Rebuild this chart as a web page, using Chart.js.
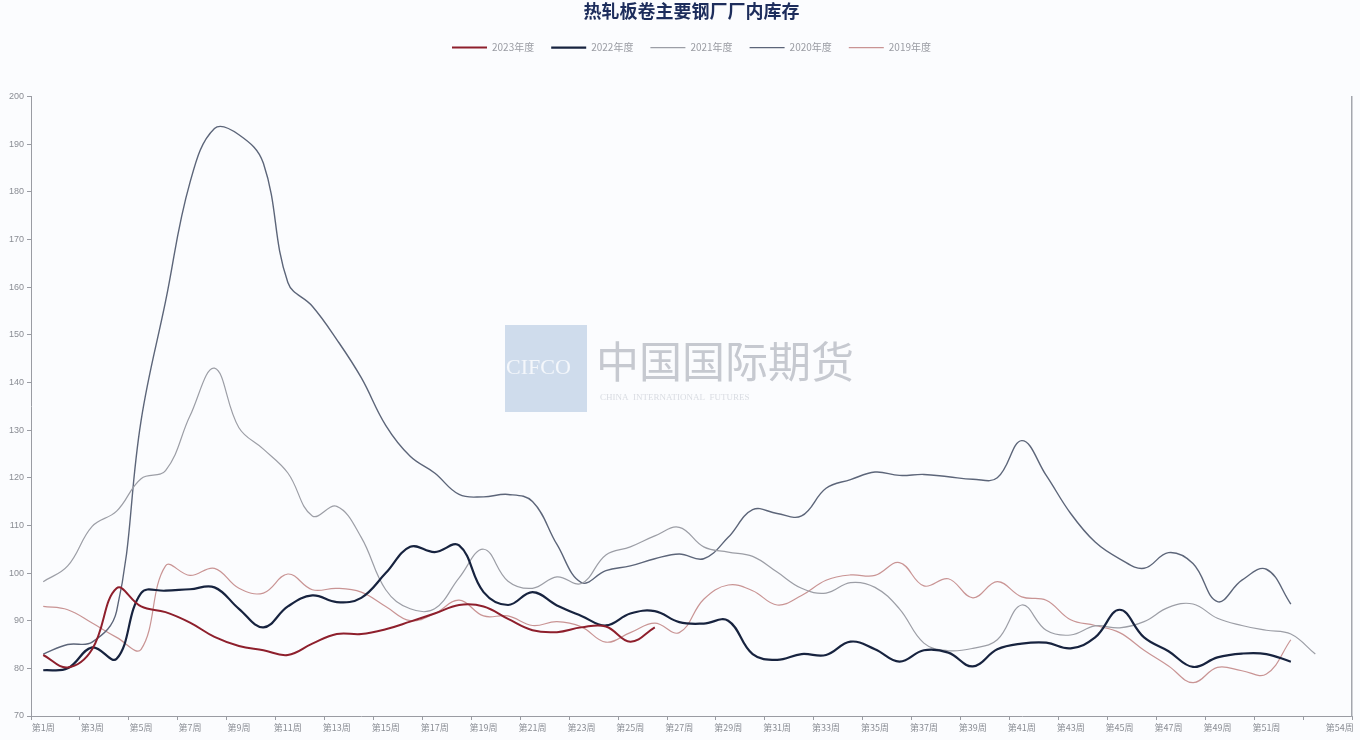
<!DOCTYPE html>
<html>
<head>
<meta charset="utf-8">
<script src="https://cdn.jsdelivr.net/npm/chart.js@4.4.0/dist/chart.umd.min.js"></script>
<style>
  html, body { margin: 0; padding: 0; background: #fbfcfe; }
  #wrap { width: 1360px; height: 740px; }
</style>
</head>
<body>
<div id="wrap"><canvas id="chart"></canvas></div>
<script>
const weeks = [
  '第1周', '第2周', '第3周', '第4周', '第5周', '第6周', '第7周', '第8周', '第9周', '第10周',
  '第11周', '第12周', '第13周', '第14周', '第15周', '第16周', '第17周', '第18周', '第19周', '第20周',
  '第21周', '第22周', '第23周', '第24周', '第25周', '第26周', '第27周', '第28周', '第29周', '第30周',
  '第31周', '第32周', '第33周', '第34周', '第35周', '第36周', '第37周', '第38周', '第39周', '第40周',
  '第41周', '第42周', '第43周', '第44周', '第45周', '第46周', '第47周', '第48周', '第49周', '第50周',
  '第51周', '第52周', '第53周', '第54周'
];

const shownWeeks = ['第1周', '第3周', '第5周', '第7周', '第9周', '第11周', '第13周', '第15周', '第17周',
  '第19周', '第21周', '第23周', '第25周', '第27周', '第29周', '第31周', '第33周', '第35周', '第37周',
  '第39周', '第41周', '第43周', '第45周', '第47周', '第49周', '第51周', '第54周'];

const yTicks = [70, 80, 90, 100, 110, 120, 130, 140, 150, 160, 170, 180, 190, 200];

const seriesNames = ['2023年度', '2022年度', '2021年度', '2020年度', '2019年度'];

const stock2023 = [82.8, 80.2, 84, 96.8, 93, 91.8, 89.6, 86.6, 84.7, 83.8,
  82.8, 85.2, 87.2, 87.2, 88.2, 89.8, 91.5, 93.3, 93, 90.4,
  88, 87.6, 88.6, 88.8, 85.6, 88.6];

const stock2022 = [79.6, 80, 84.4, 82, 95.8, 96.3, 96.6, 97, 92.5, 88.6,
  93, 95.3, 93.9, 94.8, 100, 105.5, 104.4, 105.8, 96, 93.3,
  96, 93.2, 91, 89, 91.5, 92, 89.7, 89.4, 90, 83,
  81.8, 83, 82.8, 85.6, 84, 81.4, 83.8, 83.3, 80.4, 84,
  85.2, 85.4, 84.2, 86.5, 92.3, 86.5, 83.6, 80.3, 82.3, 83.1,
  83, 81.4];

const stock2021 = [98.2, 101.5, 109.8, 113, 119.8, 121.5, 133, 143, 130.5, 126,
  121, 112, 114, 107.5, 96.5, 92.5, 92.5, 99, 105, 98.3,
  96.8, 99.2, 97.8, 103.8, 105.5, 107.8, 109.6, 105.5, 104.4, 103.5,
  100.2, 96.8, 95.8, 98, 97, 92.5, 85.3, 83.7, 84.2, 86,
  93.3, 88, 87, 88.9, 88.5, 89.8, 92.8, 93.5, 90.5, 89,
  88, 87.2, 83];

const stock2020 = [83, 85, 85.5, 92, 132, 157, 182, 193.3, 192, 186,
  161, 156, 149, 141, 131, 124.5, 121, 116.5, 116, 116.5,
  115, 106, 98, 100.5, 101.5, 103, 104, 103, 107.5, 113.3,
  112.5, 112, 117.8, 119.6, 121.2, 120.5, 120.7, 120.2, 119.7, 120,
  127.8, 120.5, 112.5, 106.5, 103, 101, 104.3, 102, 94, 98.5,
  100.8, 93.5];

const stock2019 = [93, 92.3, 89.5, 86.5, 84, 101.5, 99.5, 101, 96.8, 95.8,
  99.8, 96.5, 96.8, 96, 93, 90, 91.5, 94.3, 91, 91,
  89, 89.8, 88.7, 85.5, 87.5, 89.5, 87.5, 94.5, 97.5, 96.3,
  93.3, 95.3, 98.5, 99.6, 99.5, 102.2, 97.3, 98.8, 94.8, 98.2,
  95, 94.3, 90.2, 89, 87.5, 83.8, 80.5, 77, 80.2, 79.5,
  78.8, 86];

const axisGray = '#9a9ca3';
const textGray = '#8a8d94';
const cjk = '"Noto Sans CJK SC", "Noto Sans", sans-serif';

function line(label, data, color, width) {
  return {
    label: label,
    data: data,
    borderColor: color,
    backgroundColor: color,
    borderWidth: width,
    pointRadius: 0,
    pointHoverRadius: 0,
    pointStyle: 'line',
    tension: 0.4,
    fill: false
  };
}

// pushes the plot down below the legend
const legendGap = {
  id: 'legendGap',
  afterInit(chart) {
    const fit = chart.legend.fit;
    chart.legend.fit = function () {
      fit.call(this);
      this.height += 34;
    };
  }
};

// faint company mark in the middle of the plot
const watermark = {
  id: 'watermark',
  beforeDatasetsDraw(chart) {
    const c = chart.ctx;
    c.save();
    c.fillStyle = '#cfdcec';
    c.fillRect(505, 325, 82, 87);
    c.fillStyle = '#f4f7fb';
    c.font = '22px "Liberation Serif", serif';
    c.textBaseline = 'middle';
    c.fillText('CIFCO', 506, 368);
    c.fillStyle = '#c6c9d0';
    c.font = '43px ' + cjk;
    c.fillText('中国国际期货', 596, 362);
    c.fillStyle = '#d9dce2';
    c.font = '9px "Liberation Serif", serif';
    c.fillText('CHINA  INTERNATIONAL  FUTURES', 600, 398);
    c.restore();
  }
};

const ctx = document.getElementById('chart');
new Chart(ctx, {
  type: 'line',
  data: {
    labels: weeks,
    datasets: [
      line(seriesNames[0], stock2023, '#8e1f2c', 2),
      line(seriesNames[1], stock2022, '#17233f', 2.2),
      line(seriesNames[2], stock2021, '#9c9ea6', 1.2),
      line(seriesNames[3], stock2020, '#5c6579', 1.4),
      line(seriesNames[4], stock2019, '#c99494', 1.2)
    ]
  },
  options: {
    responsive: true,
    maintainAspectRatio: false,
    animation: false,
    layout: { padding: { left: 0, right: 8, top: 0, bottom: 0 } },
    plugins: {
      title: {
        display: true,
        fullSize: false,
        text: '热轧板卷主要钢厂厂内库存',
        color: '#1d2d5c',
        font: { family: cjk, size: 18, weight: 'bold' },
        padding: { top: 0, bottom: 4 }
      },
      legend: {
        display: true,
        fullSize: false,
        labels: {
          usePointStyle: true,
          pointStyle: 'line',
          pointStyleWidth: 35,
          padding: 17,
          color: '#9a9ca3',
          font: { family: cjk, size: 10 }
        }
      },
      tooltip: { enabled: false }
    },
    scales: {
      x: {
        offset: true,
        grid: {
          offset: true,
          drawOnChartArea: false,
          drawTicks: true,
          tickLength: 4,
          color: ctx => (ctx.index === undefined || ctx.index % 2 === 0) ? axisGray : 'rgba(0,0,0,0)'
        },
        border: { display: true, color: axisGray, width: 1 },
        ticks: {
          autoSkip: false,
          maxRotation: 0,
          padding: 2,
          color: textGray,
          font: { family: cjk, size: 9 },
          callback: function (v) {
            const name = this.getLabelForValue(v);
            return shownWeeks.includes(name) ? name : '';
          }
        },
        afterFit: s => { s.height = 24; }
      },
      y: {
        min: yTicks[0],
        max: yTicks[yTicks.length - 1],
        afterBuildTicks: s => { s.ticks = yTicks.map(v => ({ value: v })); },
        grid: {
          drawOnChartArea: false,
          drawTicks: true,
          tickLength: 4,
          color: axisGray
        },
        border: { display: true, color: axisGray, width: 1 },
        ticks: {
          padding: 3,
          color: textGray,
          font: { family: '"Liberation Sans", sans-serif', size: 9 }
        },
        afterFit: s => { s.width = 31; }
      },
      yRight: {
        position: 'right',
        min: yTicks[0],
        max: yTicks[yTicks.length - 1],
        grid: { display: false, drawTicks: false },
        border: { display: true, color: '#a3a6ad', width: 1.5 },
        ticks: { display: false },
        afterFit: s => { s.width = 0; }
      }
    }
  },
  plugins: [legendGap, watermark]
});
</script>
</body>
</html>
